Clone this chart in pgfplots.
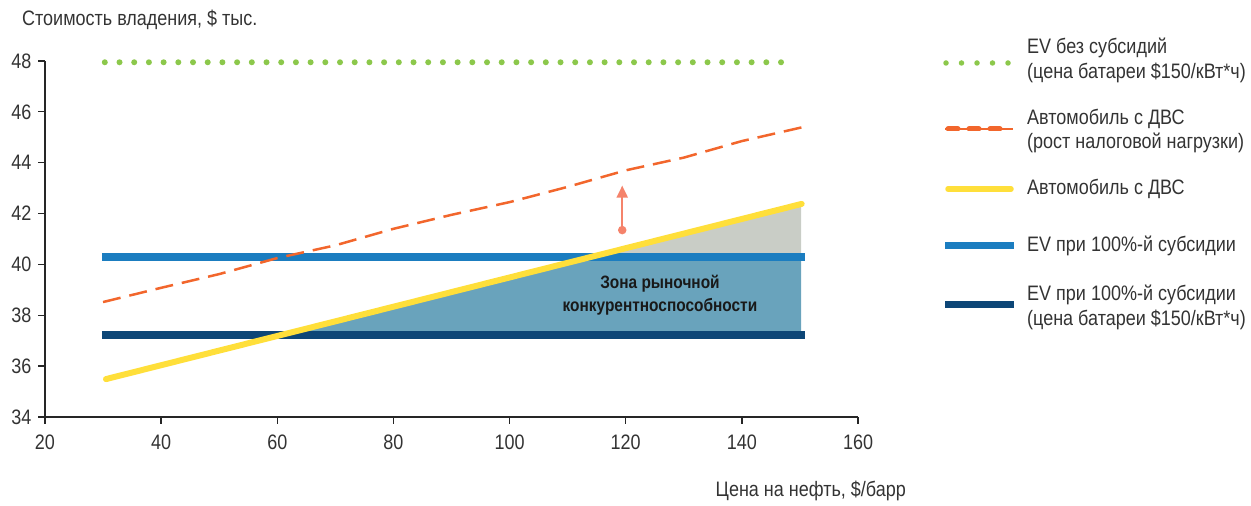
\documentclass[border=0pt]{standalone}
\usepackage{fontspec}
\setmainfont[FakeStretch=0.86]{Liberation Sans}
\usepackage{pgfplots}
\pgfplotsset{compat=1.18}
\usetikzlibrary{arrows.meta}
\definecolor{cgreen}{HTML}{8CC84B}
\definecolor{corange}{HTML}{F2662C}
\definecolor{cyellow}{HTML}{FFDF3A}
\definecolor{cblue}{HTML}{1B7DC0}
\definecolor{cnavy}{HTML}{0D4677}
\definecolor{csteel}{HTML}{69A3BC}
\definecolor{cgray}{HTML}{C9CDC6}
\definecolor{carrow}{HTML}{F5836B}
\definecolor{ctext}{HTML}{333333}
\begin{document}
\begin{tikzpicture}[x=1bp,y=1bp]
\useasboundingbox (-45,-89) rectangle (1206,417);
\begin{axis}[
  at={(0,0)}, anchor=south west,
  scale only axis, width=813bp, height=356bp,
  xmin=20, xmax=160, ymin=34, ymax=48,
  xtick={20,40,...,160}, ytick={34,36,...,48},
  axis lines=left, axis line style={-, line width=1.3bp, color=black!85},
  tick style={line width=1.3bp, color=black!85},
  tick align=outside, major tick length=7bp,
  /pgf/number format/assume math mode=true,
  ticklabel style={font=\fontsize{21}{24}\selectfont, text=ctext},
  xticklabel style={yshift=-7bp},
  yticklabel style={xshift=-3bp},
  clip=false,
]
% zone fills
\addplot[fill=csteel, draw=none] coordinates {(59.6,37.22) (113.9,40.29) (150.2,40.29) (150.2,37.22)} -- cycle;
\addplot[fill=cgray, draw=none] coordinates {(113.9,40.29) (150.2,42.38) (150.2,40.29)} -- cycle;
% EV 100% subsidy battery 150
\addplot[cnavy, line width=8bp] coordinates {(29.8,37.22) (150.9,37.22)};
% EV 100% subsidy
\addplot[cblue, line width=8bp] coordinates {(29.8,40.29) (150.9,40.29)};
% ICE
\addplot[cyellow, line width=6bp, line cap=round] coordinates {(30.5,35.49) (150.3,42.38)};
% ICE tax
\addplot[corange, line width=2.5bp, dash pattern=on 18bp off 9bp] coordinates {
(30,38.52) (40,39.08) (50,39.62) (60,40.25) (70,40.75) (80,41.4) (90,41.95) (100,42.45) (110,43.05) (120,43.7) (130,44.2) (140,44.85) (150.9,45.42)};
% EV no subsidy
\addplot[cgreen, line width=6bp, line cap=round, dash pattern=on 0bp off 14.7bp] coordinates {(30.3,47.95) (148.5,47.95)};
% arrow
\addplot[carrow, line width=2bp, -{Triangle[length=12bp,width=11bp]}, mark=*, mark indices={1}, mark options={solid, fill=carrow, draw=carrow, scale=1.6}] coordinates {(119.4,41.35) (119.4,43.1)};
\node[font=\bfseries\fontsize{18}{23}\selectfont, text=black!90, align=center] at (axis cs:125.9,38.8) {Зона рыночной\\конкурентноспособности};
\end{axis}
% axis titles
\node[anchor=west, inner sep=0pt, font=\fontsize{21}{24}\selectfont, text=ctext] at (-23,397) {Стоимость владения, \$ тыс.};
\node[anchor=east, inner sep=0pt, font=\fontsize{21}{24}\selectfont, text=ctext] at (861,-74) {Цена на нефть, \$/барр};
% legend
\begin{scope}[font=\fontsize{21}{25}\selectfont]
\draw[cgreen, line width=5.5bp, line cap=round, dash pattern=on 0bp off 15.5bp] (901,354) -- (964,354);
\node[anchor=west, inner sep=0pt, align=left, text=ctext] at (982,357) {EV без субсидий\\(цена батареи \$150/кВт*ч)};
\draw[corange, line width=1.2bp] (900,288) -- (968,288);
\draw[corange, line width=5bp, line cap=round, dash pattern=on 10bp off 11bp] (903,288) -- (960,288);
\node[anchor=west, inner sep=0pt, align=left, text=ctext] at (982,286) {Автомобиль с ДВС\\(рост налоговой нагрузки)};
\draw[cyellow, line width=5.5bp, line cap=round] (903,228) -- (966,228);
\node[anchor=west, inner sep=0pt, align=left, text=ctext] at (982,228) {Автомобиль с ДВС};
\draw[cblue, line width=7bp] (900,171) -- (969,171);
\node[anchor=west, inner sep=0pt, align=left, text=ctext] at (982,171) {EV при 100\%-й субсидии};
\draw[cnavy, line width=7bp] (900,112) -- (969,112);
\node[anchor=west, inner sep=0pt, align=left, text=ctext] at (982,110) {EV при 100\%-й субсидии\\(цена батареи \$150/кВт*ч)};
\end{scope}
\end{tikzpicture}
\end{document}
